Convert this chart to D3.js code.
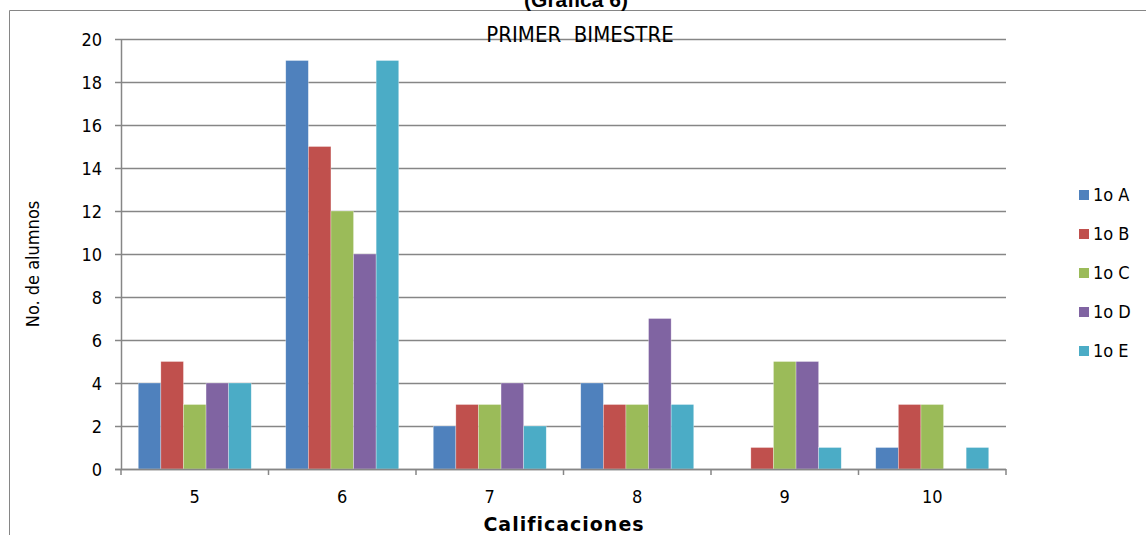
<!DOCTYPE html>
<html>
<head>
<meta charset="utf-8">
<script src="https://cdn.jsdelivr.net/npm/d3@7"></script>
<style>
  body { margin: 0; background: #fff; }
</style>
</head>
<body>
<svg id="chart" width="1146" height="535"></svg>
<script>
// grades on the x axis
var categories = ['5', '6', '7', '8', '9', '10'];
var seriesNames = ['1o A', '1o B', '1o C', '1o D', '1o E'];
var colors = ['#4F81BD', '#C0504D', '#9BBB59', '#8064A2', '#4BACC6'];
// one array per group, indexed by category
var grupoA = [4, 19, 2, 4, 0, 1];
var grupoB = [5, 15, 3, 3, 1, 3];
var grupoC = [3, 12, 3, 3, 5, 3];
var grupoD = [4, 10, 4, 7, 5, 0];
var grupoE = [4, 19, 2, 3, 1, 1];
var yTicks = [0, 2, 4, 6, 8, 10, 12, 14, 16, 18, 20];

var seriesValues = [grupoA, grupoB, grupoC, grupoD, grupoE];

var svg = d3.select('#chart');
var plotLeft = 121, plotRight = 1006, plotTop = 39, plotBottom = 469;
var condensed = '"DejaVu Sans Condensed", "Liberation Sans", Arial, sans-serif';

// outer frame (only left and top visible)
svg.append('line').attr('x1', 9.5).attr('x2', 1146).attr('y1', 10.5).attr('y2', 10.5)
    .attr('stroke', '#868686').attr('stroke-width', 1);
svg.append('line').attr('x1', 9.5).attr('x2', 9.5).attr('y1', 10.5).attr('y2', 535)
    .attr('stroke', '#868686').attr('stroke-width', 1);

// title, mostly cut off at the top
svg.append('text').text('(Gráfica 6)')
    .attr('x', 576).attr('y', 7)
    .attr('text-anchor', 'middle')
    .style('font-family', '"Liberation Sans", Arial, sans-serif')
    .attr('font-weight', 'bold').attr('font-size', 21).attr('fill', '#000');

var x0 = d3.scaleBand().domain(categories).range([plotLeft, plotRight]).paddingInner(0.234).paddingOuter(0.117);
var x1 = d3.scaleBand().domain(seriesNames).range([0, x0.bandwidth()]);
var y = d3.scaleLinear().domain([0, 20]).range([plotBottom, plotTop]);

// gridlines
svg.append('g').selectAll('line')
    .data(yTicks).enter().append('line')
    .attr('x1', plotLeft - 6).attr('x2', plotRight)
    .attr('y1', function (d) { return Math.round(y(d)) + 0.5; })
    .attr('y2', function (d) { return Math.round(y(d)) + 0.5; })
    .attr('stroke', '#868686').attr('stroke-width', 1.5);

svg.append('text').text('PRIMER  BIMESTRE')
    .attr('x', 580).attr('y', 42)
    .attr('text-anchor', 'middle')
    .style('font-family', condensed)
    .attr('font-size', 22).attr('fill', '#000')
    .attr('xml:space', 'preserve');

// bars
var groups = svg.append('g').selectAll('g')
    .data(categories).enter().append('g')
    .attr('transform', function (d) { return 'translate(' + x0(d) + ',0)'; });

groups.selectAll('rect')
    .data(function (d, i) {
        return seriesNames.map(function (s, j) {
            return { name: s, value: seriesValues[j][i], color: colors[j] };
        });
    })
    .enter().append('rect')
    .attr('x', function (d) { return x1(d.name); })
    .attr('width', x1.bandwidth())
    .attr('y', function (d) { return y(d.value); })
    .attr('height', function (d) { return plotBottom - y(d.value); })
    .attr('fill', function (d) { return d.color; })
    .attr('stroke', '#fff').attr('stroke-opacity', 0.5).attr('stroke-width', 0.6);

// y axis
var yAxis = d3.axisLeft(y).tickValues(yTicks).tickSize(0).tickPadding(19);
var gy = svg.append('g').attr('transform', 'translate(' + plotLeft + ',0)').call(yAxis);
gy.select('.domain').attr('stroke', '#868686').attr('stroke-width', 1.5);
gy.selectAll('text').attr('font-size', 18).attr('fill', '#000').attr('dy', '0.35em')
    .style('font-family', condensed);

// x axis
var xAxis = d3.axisBottom(x0).tickSize(0).tickPadding(20);
var gx = svg.append('g').attr('transform', 'translate(0,' + plotBottom + ')').call(xAxis);
gx.select('.domain').remove();
gx.append('line').attr('x1', plotLeft - 6).attr('x2', plotRight).attr('y1', 0.5).attr('y2', 0.5)
    .attr('stroke', '#868686').attr('stroke-width', 1.5);
var step = x0.step();
gx.selectAll('.boundary')
    .data(d3.range(categories.length + 1)).enter().append('line')
    .attr('x1', function (d) { return plotLeft + d * step; })
    .attr('x2', function (d) { return plotLeft + d * step; })
    .attr('y1', 0).attr('y2', 6)
    .attr('stroke', '#868686').attr('stroke-width', 1.5);
gx.selectAll('text').attr('font-size', 18).attr('fill', '#000').attr('dy', '0.8em')
    .style('font-family', condensed);

// axis titles
svg.append('text').text('Calificaciones')
    .attr('x', 564).attr('y', 531)
    .attr('text-anchor', 'middle')
    .style('font-family', '"DejaVu Sans", Verdana, sans-serif')
    .attr('letter-spacing', 1)
    .attr('font-weight', 'bold').attr('font-size', 19).attr('fill', '#000');

svg.append('text').text('No. de alumnos')
    .attr('transform', 'translate(39,264) rotate(-90)')
    .attr('text-anchor', 'middle')
    .style('font-family', condensed)
    .attr('font-size', 18).attr('fill', '#000');

// legend
var legend = svg.append('g').selectAll('g')
    .data(seriesNames).enter().append('g')
    .attr('transform', function (d, i) { return 'translate(1079,' + (195 + i * 39) + ')'; });
legend.append('rect').attr('x', 0).attr('y', -5).attr('width', 10).attr('height', 10)
    .attr('fill', function (d, i) { return colors[i]; });
legend.append('text').text(function (d) { return d; })
    .attr('x', 14).attr('y', 0).attr('dy', '0.35em')
    .style('font-family', condensed)
    .attr('font-size', 18).attr('fill', '#000');
</script>
</body>
</html>
